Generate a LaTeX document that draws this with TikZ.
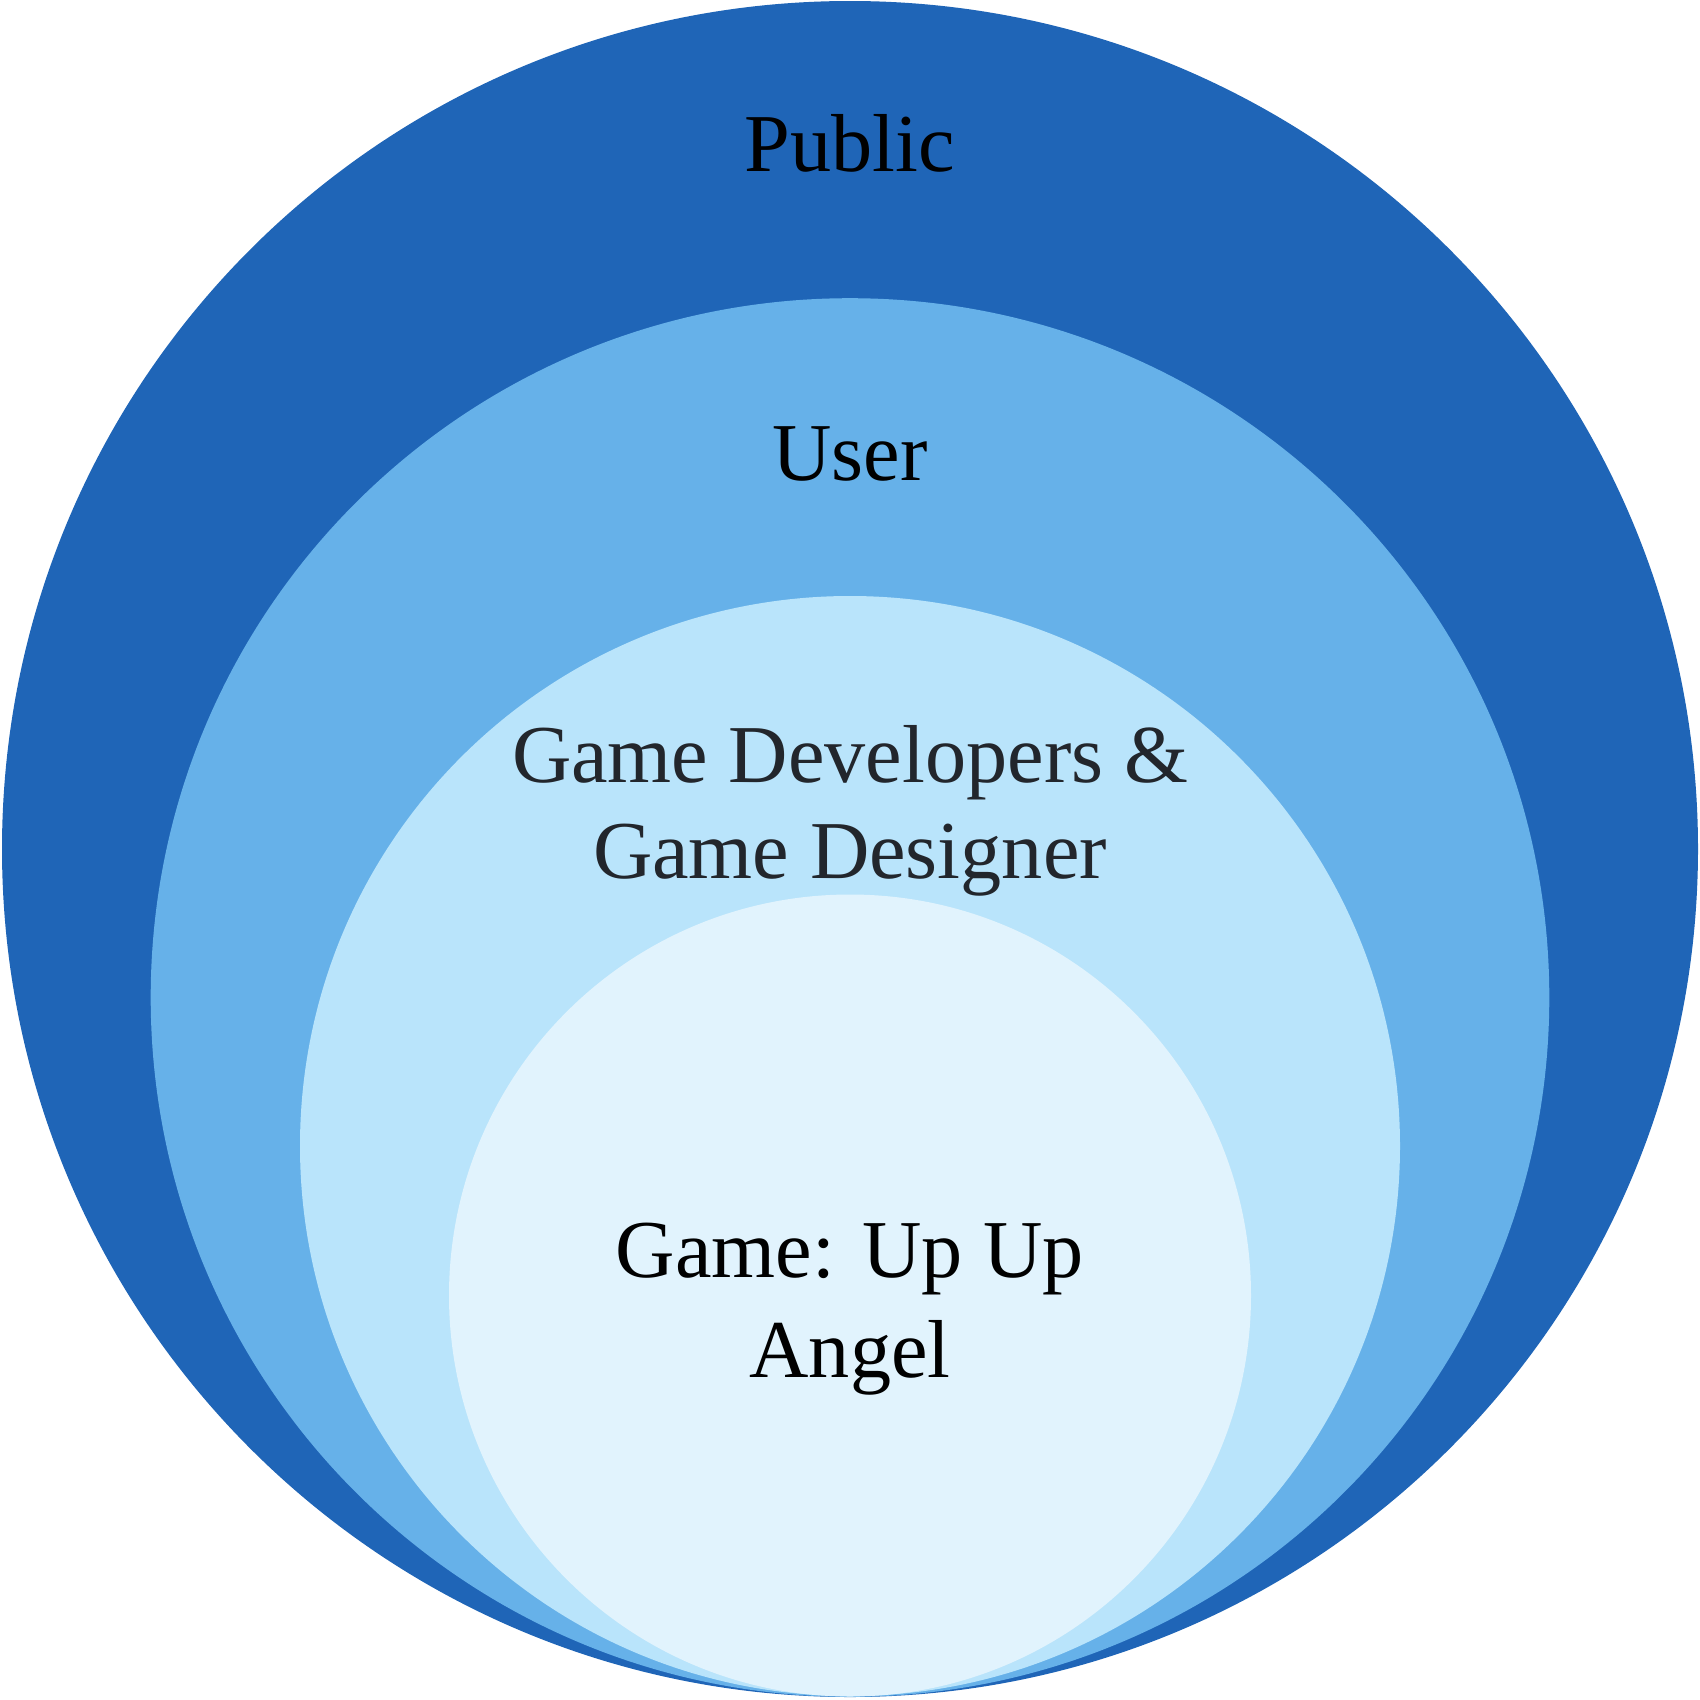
\documentclass[tikz,border=0pt]{standalone}
\usepackage{fontspec}
\setmainfont{Liberation Serif}
\definecolor{ringA}{HTML}{1F65B7}
\definecolor{ringB}{HTML}{66B1E9}
\definecolor{ringC}{HTML}{B9E4FB}
\definecolor{ringD}{HTML}{E1F3FD}
\definecolor{darktext}{HTML}{22262C}
\begin{document}
\begin{tikzpicture}[
  lbl/.style={anchor=base, inner sep=0pt, font=\fontsize{23.4pt}{28pt}\selectfont},
  lblc/.style={lbl, text=darktext}
]
\useasboundingbox (0,0) rectangle (17,-17);
\fill[ringA] (8.50,-8.49) circle (8.48);
\fill[ringB] (8.50,-9.975) circle (6.993);
\fill[ringC] (8.50,-11.46) circle (5.50);
\fill[ringD] (8.50,-12.955) circle (4.01);
\node[lbl] (public) at (8.50,-1.71) {Public};
\node[lbl] (user) at (8.50,-4.80) {User};
\node[lblc] (dev1) at (8.50,-7.82) {Game Developers \&};
\node[lblc] (dev2) at (8.50,-8.78) {Game Designer};
\node[lbl] (game1) at (8.50,-12.77) {Game: Up Up};
\node[lbl] (game2) at (8.50,-13.77) {Angel};
\end{tikzpicture}
\end{document}
